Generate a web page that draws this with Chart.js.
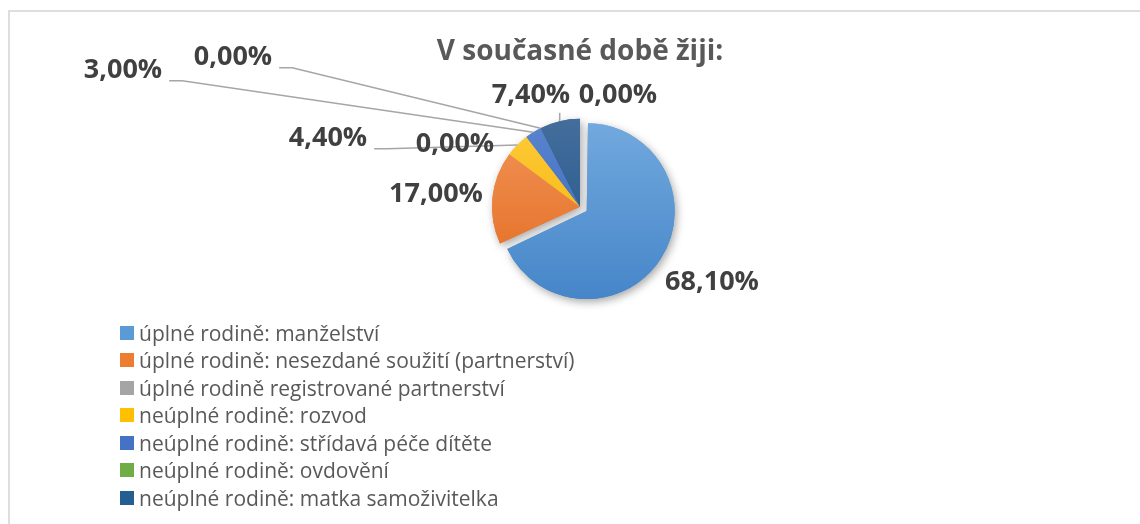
<!DOCTYPE html>
<html lang="cs">
<head>
<meta charset="utf-8">
<title>V současné době žiji:</title>
<script src="https://cdn.jsdelivr.net/npm/chart.js@4"></script>
<style>
    body { margin: 0; background: #ffffff; }
    #obal { position: relative; width: 1140px; height: 524px; overflow: hidden; }
    #ramecek {
        position: absolute; left: 8px; top: 10px; width: 1200px; height: 600px;
        border-top: 2px solid #dedede; border-left: 2px solid #dedede;
    }
    #graf { position: absolute; left: 0; top: 0; }
    #legenda {
        position: absolute; left: 120px; top: 319px;
        font-family: "Open Sans", sans-serif; font-size: 21px; color: #595959;
    }
    .polozka { height: 27.5px; display: flex; align-items: center; white-space: nowrap; }
    .ctverec { width: 14px; height: 14px; margin-right: 5px; flex: none; }
</style>
</head>
<body>
<div id="obal">
    <div id="ramecek"></div>
    <canvas id="graf" width="1140" height="524"></canvas>
    <div id="legenda"></div>
</div>
<script>
const nadpis = "V současné době žiji:";

const kategorie = [
    "úplné rodině: manželství",
    "úplné rodině: nesezdané soužití (partnerství)",
    "úplné rodině registrované partnerství",
    "neúplné rodině: rozvod",
    "neúplné rodině: střídavá péče dítěte",
    "neúplné rodině: ovdovění",
    "neúplné rodině: matka samoživitelka"
];

// osmá hodnota (0 %) nemá v obrázku viditelnou položku legendy
const hodnoty = [68.1, 17.0, 0, 4.4, 3.0, 0, 7.4, 0];

const barvy = ["#5B9BD5", "#ED7D31", "#A5A5A5", "#FFC000", "#4472C4", "#70AD47", "#255E91", "#9E480E"];
const barvyHore = ["#72A9DE", "#F2955A", "#B5B5B5", "#FFCB3A", "#5A85D0", "#82BD5A", "#446E9C", "#B05A20"];
const barvyDole = ["#4585C8", "#E2691C", "#959595", "#F0B000", "#3562B5", "#5E9A38", "#1C5288", "#8A3E0A"];

const VYSUNUTI = 32; // offset prvni vysece (Chart.js posune o offset/4)

function textHodnoty(v) {
    return v.toFixed(2).replace(".", ",") + "%";
}

// kam dát popisky vůči středu koláče
const umisteniPopisku = [
    { dx: 132, dy: 76 },
    { dx: -144, dy: -12 },
    { dx: -125, dy: -62 },
    { dx: -252, dy: -68, cara: "bok" },
    { dx: -457, dy: -136, cara: "bok" },
    { dx: -347, dy: -149, cara: "bok" },
    { dx: -49, dy: -111, cara: "dole" },
    { dx: 38, dy: -111 }
];

// Chart.js pri offsetu vysec i zvetsi, tak ji zase zmensime
const vysunuti = {
    id: "vysunuti",
    afterDatasetsUpdate(chart) {
        const a = chart.getDatasetMeta(0).data[0];
        if (a) a.outerRadius -= VYSUNUTI / 4;
    }
};

const stin = {
    id: "stin",
    beforeDatasetsDraw(chart) {
        const ctx = chart.ctx;
        ctx.save();
        ctx.shadowColor = "rgba(0,0,0,0.35)";
        ctx.shadowBlur = 8;
        ctx.shadowOffsetX = 2;
        ctx.shadowOffsetY = 3;
        chart.getDatasetMeta(0).data.forEach(oblouk => oblouk.draw(ctx));
        ctx.restore();
    }
};

const popisky = {
    id: "popisky",
    afterDatasetsDraw(chart) {
        const ctx = chart.ctx;
        const oblouky = chart.getDatasetMeta(0).data;
        ctx.save();
        ctx.font = "bold 27px 'Open Sans'";
        ctx.textAlign = "center";
        ctx.textBaseline = "middle";

        // nejdriv vodici cary
        ctx.strokeStyle = "#A6A6A6";
        ctx.lineWidth = 1.5;
        oblouky.forEach((a, i) => {
            const u = umisteniPopisku[i];
            if (!u.cara) return;
            const stred = (a.startAngle + a.endAngle) / 2;
            const px = a.x + a.outerRadius * Math.cos(stred);
            const py = a.y + a.outerRadius * Math.sin(stred);
            const tx = a.x + u.dx;
            const ty = a.y + u.dy;
            ctx.beginPath();
            if (u.cara === "bok") {
                const w = ctx.measureText(textHodnoty(hodnoty[i])).width;
                const x0 = tx + w / 2 + 7;
                ctx.moveTo(x0, ty + 10);
                ctx.lineTo(x0 + 13, ty + 10);
                ctx.lineTo(px, py);
            } else {
                ctx.moveTo(px, ty + 17);
                ctx.lineTo(px, py);
            }
            ctx.stroke();
        });

        ctx.fillStyle = "#404040";
        oblouky.forEach((a, i) => {
            const u = umisteniPopisku[i];
            ctx.fillText(textHodnoty(hodnoty[i]), a.x + u.dx, a.y + u.dy);
        });
        ctx.restore();
    }
};

function prechod(c) {
    const i = c.dataIndex;
    const area = c.chart.chartArea;
    if (!area) return barvy[i];
    const cy = (area.top + area.bottom) / 2;
    const g = c.chart.ctx.createLinearGradient(0, cy - 90, 0, cy + 90);
    g.addColorStop(0, barvyHore[i]);
    g.addColorStop(1, barvyDole[i]);
    return g;
}

new Chart(document.getElementById("graf").getContext("2d"), {
    type: "pie",
    data: {
        labels: kategorie,
        datasets: [{
            data: hodnoty,
            backgroundColor: prechod,
            borderWidth: 0,
            offset: (c) => c.dataIndex === 0 ? VYSUNUTI : 0
        }]
    },
    options: {
        responsive: false,
        animation: false,
        radius: 88,
        layout: { padding: { left: 20, right: 0, top: 0, bottom: 187 } },
        plugins: {
            legend: { display: false },
            tooltip: { enabled: false },
            title: {
                display: true,
                text: nadpis,
                color: "#595959",
                font: { family: "'Open Sans'", size: 28, weight: "bold", lineHeight: 1.2 },
                padding: { top: 35, bottom: 8 }
            }
        }
    },
    plugins: [vysunuti, stin, popisky]
});

// legenda z kategorii
const legenda = document.getElementById("legenda");
kategorie.forEach((k, i) => {
    const radek = document.createElement("div");
    radek.className = "polozka";
    const ctverec = document.createElement("span");
    ctverec.className = "ctverec";
    ctverec.style.background = barvy[i];
    const text = document.createElement("span");
    text.textContent = k;
    radek.appendChild(ctverec);
    radek.appendChild(text);
    legenda.appendChild(radek);
});
</script>
</body>
</html>
